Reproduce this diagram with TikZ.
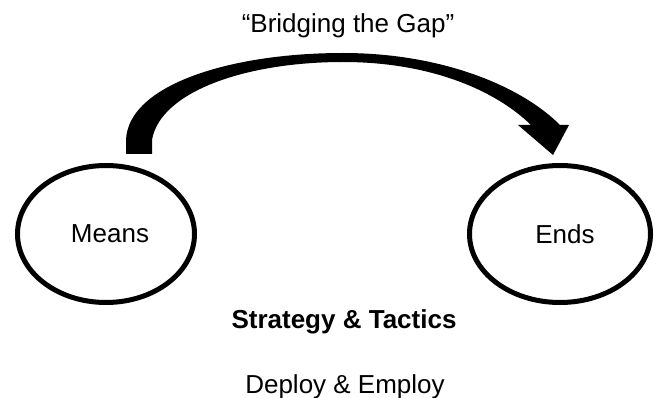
\documentclass[tikz,border=0pt]{standalone}
\usepackage{fontspec}
\setmainfont{Liberation Sans}
\usetikzlibrary{shapes.geometric}
\begin{document}
\begin{tikzpicture}[x=1pt,y=-1pt,
  ell/.style={draw=black, line width=5pt, ellipse, inner sep=0pt},
  lbl/.style={font=\fontsize{26}{30}\selectfont, inner sep=0pt},
  lblbold/.style={font=\fontsize{26}{30}\selectfont\bfseries, inner sep=0pt}]
\path[use as bounding box, fill=white] (0,0) rectangle (656,398);
% ellipses
\node[ell, minimum width=177pt, minimum height=137pt] (means) at (106,234) {};
\node[ell, minimum width=181pt, minimum height=137pt] (ends) at (560,234) {};
\node[lbl] (meanstext) at (110,234) {Means};
\node[lbl] (endstext) at (565,234) {Ends};
% curved block arrow
\fill[black] (126,154) -- (126,140)
  .. controls (128,85) and (230,53) .. (343,53)
  .. controls (440,53) and (520,85) .. (560,125)
  -- (569,125) -- (553,155) -- (518,125) -- (531,125)
  .. controls (495,90) and (430,62) .. (343,62)
  .. controls (245,62) and (160,92) .. (152,140)
  -- (152,154) -- cycle;
% texts
\node[lbl, anchor=base] (gap) at (348,33) {“Bridging the Gap”};
\node[lblbold, anchor=base] (strat) at (344,328) {Strategy \& Tactics};
\node[lbl, anchor=base] (deploy) at (345,393) {Deploy \& Employ};
\end{tikzpicture}
\end{document}
